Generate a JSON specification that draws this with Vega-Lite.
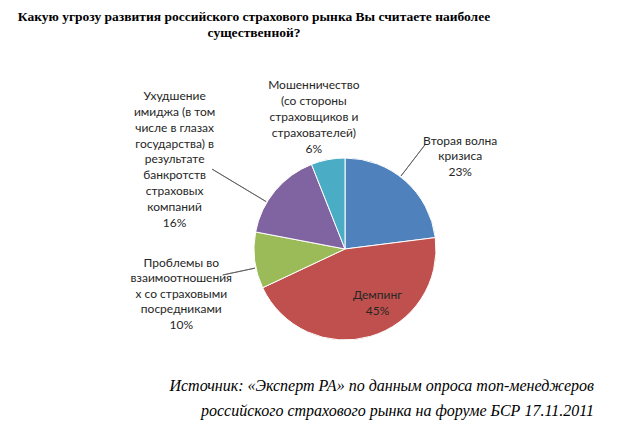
{
  "$schema": "https://vega.github.io/schema/vega-lite/v6.json",
  "padding": {"left": 17, "top": 9, "right": 0, "bottom": 0},
  "background": "white",
  "title": {
    "text": ["Источник: «Эксперт РА» по данным опроса топ-менеджеров", "российского страхового рынка на форуме БСР 17.11.2011"],
    "orient": "bottom",
    "anchor": "end",
    "align": "right",
    "font": "Liberation Serif",
    "fontStyle": "italic",
    "fontWeight": "normal",
    "fontSize": 16,
    "lineHeight": 25,
    "color": "#000000",
    "offset": -28
  },
  "vconcat": [
    {
      "width": 498,
      "height": 182,
      "title": {
        "text": ["Какую угрозу развития российского страхового рынка Вы считаете наиболее", "существенной?"],
        "anchor": "middle",
        "frame": "group",
        "dx": -91,
        "font": "Liberation Serif",
        "fontSize": 13.5,
        "fontWeight": "bold",
        "color": "#000000",
        "lineHeight": 16,
        "offset": -15
      },
      "data": {
        "values": [
          {"cat": "Вторая волна кризиса", "v": 23, "o": 1, "label": "Вторая волна\nкризиса\n23%"},
          {"cat": "Демпинг", "v": 45, "o": 2, "label": "Демпинг\n45%"},
          {"cat": "Проблемы во взаимоотношениях со страховыми посредниками", "v": 10, "o": 3, "label": "Проблемы во\nвзаимоотношения\nх со страховыми\nпосредниками\n10%"},
          {"cat": "Ухудшение имиджа в результате банкротств страховых компаний", "v": 16, "o": 4, "label": "Ухудшение\nимиджа (в том\nчисле в глазах\nгосударства) в\nрезультате\nбанкротств\nстраховых\nкомпаний\n16%"},
          {"cat": "Мошенничество", "v": 6, "o": 5, "label": "Мошенничество\n(со стороны\nстраховщиков и\nстрахователей)\n6%"}
        ]
      },
      "encoding": {
        "theta": {"field": "v", "type": "quantitative", "stack": true},
        "order": {"field": "o", "type": "quantitative"}
      },
      "layer": [
        {
          "mark": {"type": "arc", "outerRadius": 91, "stroke": "white", "strokeWidth": 1},
          "encoding": {
            "color": {
              "field": "cat",
              "type": "nominal",
              "sort": null,
              "scale": {
                "domain": ["Вторая волна кризиса", "Демпинг", "Проблемы во взаимоотношениях со страховыми посредниками", "Ухудшение имиджа в результате банкротств страховых компаний", "Мошенничество"],
                "range": ["#4F81BD", "#C0504D", "#9BBB59", "#8064A2", "#4BACC6"]
              },
              "legend": null
            }
          }
        },
        {
          "transform": [
            {"stack": "v", "groupby": [], "sort": [{"field": "o"}], "as": ["s0", "s1"]},
            {"filter": "datum.o == 1"}
          ],
          "mark": {"type": "arc", "radius": 132, "radius2": 92, "thetaOffset": 0.6545, "theta2Offset": 0.6545, "filled": false, "stroke": "#595959", "strokeWidth": 0.8},
          "encoding": {
            "theta": {"field": "s0", "type": "quantitative"},
            "theta2": {"field": "s0"}
          }
        },
        {
          "transform": [
            {"stack": "v", "groupby": [], "sort": [{"field": "o"}], "as": ["s0", "s1"]},
            {"filter": "datum.o == 3"}
          ],
          "mark": {"type": "arc", "radius": 125, "radius2": 92, "thetaOffset": 0.2304, "theta2Offset": 0.2304, "filled": false, "stroke": "#595959", "strokeWidth": 0.8},
          "encoding": {
            "theta": {"field": "s0", "type": "quantitative"},
            "theta2": {"field": "s0"}
          }
        },
        {
          "transform": [
            {"stack": "v", "groupby": [], "sort": [{"field": "o"}], "as": ["s0", "s1"]},
            {"filter": "datum.o == 4"}
          ],
          "mark": {"type": "arc", "radius": 155, "radius2": 92, "thetaOffset": 0.3526, "theta2Offset": 0.3526, "filled": false, "stroke": "#595959", "strokeWidth": 0.8},
          "encoding": {
            "theta": {"field": "s0", "type": "quantitative"},
            "theta2": {"field": "s0"}
          }
        },
        {
          "mark": {"type": "text", "radius": 147, "dx": 18, "dy": 2, "lineBreak": "\n", "font": "Lato", "fontSize": 12, "lineHeight": 15.5, "color": "#262626", "align": "center", "baseline": "middle"},
          "encoding": {"text": {"condition": {"test": "datum.o == 1", "field": "label"}, "value": ""}}
        },
        {
          "mark": {"type": "text", "radius": 63, "dx": 15, "dy": -14, "lineBreak": "\n", "font": "Lato", "fontSize": 12, "lineHeight": 15.5, "color": "#262626", "align": "center", "baseline": "middle"},
          "encoding": {"text": {"condition": {"test": "datum.o == 2", "field": "label"}, "value": ""}}
        },
        {
          "mark": {"type": "text", "radius": 165, "dx": 0, "dy": -7, "lineBreak": "\n", "font": "Lato", "fontSize": 12, "lineHeight": 15.5, "color": "#262626", "align": "center", "baseline": "middle"},
          "encoding": {"text": {"condition": {"test": "datum.o == 3", "field": "label"}, "value": ""}}
        },
        {
          "mark": {"type": "text", "radius": 190, "dx": -24, "dy": -32, "lineBreak": "\n", "font": "Lato", "fontSize": 12, "lineHeight": 15.9, "color": "#262626", "align": "center", "baseline": "middle"},
          "encoding": {"text": {"condition": {"test": "datum.o == 4", "field": "label"}, "value": ""}}
        },
        {
          "mark": {"type": "text", "radius": 134, "dx": -6, "dy": -32, "lineBreak": "\n", "font": "Lato", "fontSize": 12, "lineHeight": 15.9, "color": "#262626", "align": "center", "baseline": "middle"},
          "encoding": {"text": {"condition": {"test": "datum.o == 5", "field": "label"}, "value": ""}}
        }
      ]
    }
  ],
  "config": {"view": {"stroke": null}}
}
